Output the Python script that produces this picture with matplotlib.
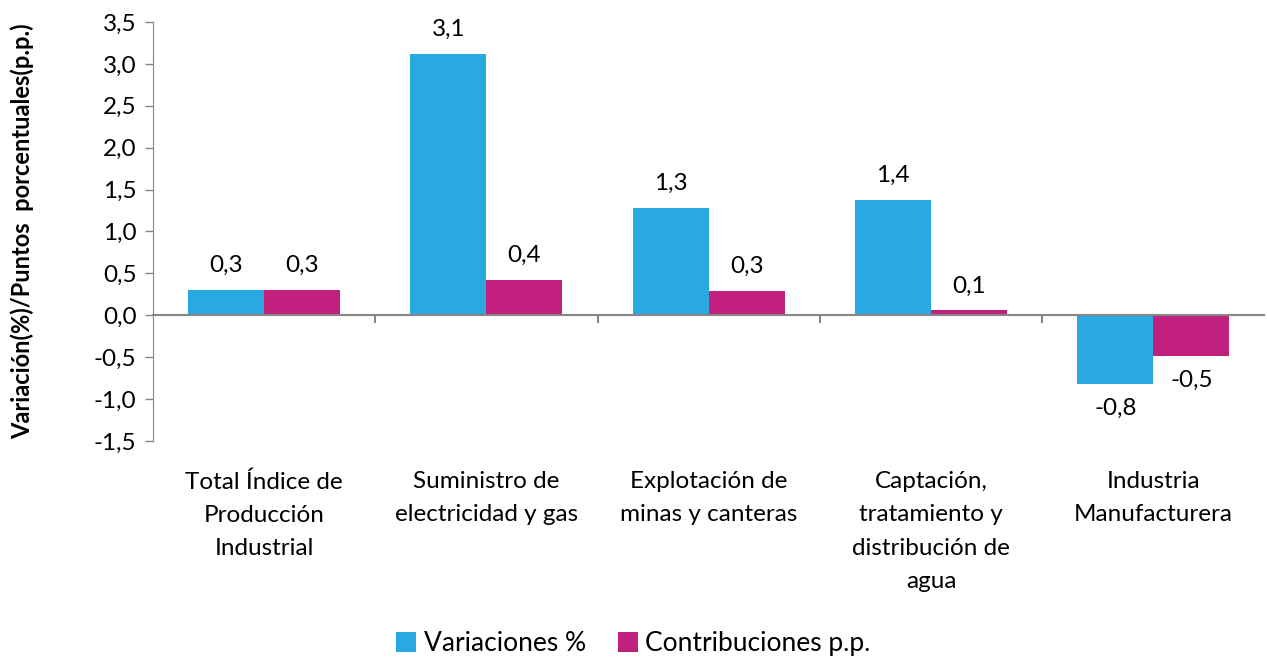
"""Variación y contribución por actividad del Índice de Producción Industrial."""

import matplotlib

matplotlib.use("Agg")
import matplotlib.pyplot as plt
import matplotlib.transforms as mtransforms
import numpy as np

plt.rcParams["font.family"] = ["Lato", "DejaVu Sans"]

categories = [
    "Total Índice de\nProducción\nIndustrial",
    "Suministro de\nelectricidad y gas",
    "Explotación de\nminas y canteras",
    "Captación,\ntratamiento y\ndistribución de\nagua",
    "Industria\nManufacturera",
]
variaciones = [0.30, 3.12, 1.28, 1.38, -0.82]
contribuciones = [0.30, 0.42, 0.29, 0.06, -0.49]
series_names = ["Variaciones %", "Contribuciones p.p."]
yticks = [-1.5, -1.0, -0.5, 0.0, 0.5, 1.0, 1.5, 2.0, 2.5, 3.0, 3.5]

BLUE = "#29A9E1"
MAGENTA = "#C1207F"
AXIS = "#868686"
FS = 17.5


def fmt(v):
    return f"{v:.1f}".replace(".", ",")


fig = plt.figure(figsize=(12.67, 6.57), dpi=100)
ax = fig.add_axes([0.1208, 0.3288, 0.8772, 0.6377])

x = np.arange(len(categories))
w = 0.342
bars_v = ax.bar(x - w / 2, variaciones, w, color=BLUE, label=series_names[0])
bars_c = ax.bar(x + w / 2, contribuciones, w, color=MAGENTA, label=series_names[1])

for bars in (bars_v, bars_c):
    for b in bars:
        v = b.get_height()
        xc = b.get_x() + b.get_width() / 2
        off = 10 if v >= 0 else -10
        ax.annotate(fmt(v), (xc, v), xytext=(0, off), textcoords="offset points",
                    ha="center", va="bottom" if v >= 0 else "top", fontsize=FS)

ax.set_xlim(-0.5, len(categories) - 0.5)
ax.set_ylim(yticks[0], yticks[-1])
ax.set_yticks(yticks)
ax.set_yticklabels([fmt(t) for t in yticks], fontsize=FS)
ax.tick_params(axis="y", length=6, width=1, color=AXIS, pad=6)

for side in ("top", "right"):
    ax.spines[side].set_visible(False)
ax.spines["left"].set_color(AXIS)
ax.spines["bottom"].set_position(("data", 0))
ax.spines["bottom"].set_color(AXIS)
ax.spines["bottom"].set_linewidth(1.5)

ax.set_xticks(x)
ax.set_xticklabels([])
ax.tick_params(axis="x", which="major", length=0)
ax.set_xticks(x[:-1] + 0.5, minor=True)
ax.tick_params(axis="x", which="minor", length=6, width=1.5, color=AXIS, direction="out")

trans = mtransforms.blended_transform_factory(ax.transData, ax.transAxes)
for xi, cat in zip(x, categories):
    ax.text(xi, -0.072, cat, transform=trans, ha="center", va="top",
            fontsize=FS, linespacing=1.72)

ax.set_ylabel("Variación(%)/Puntos  porcentuales(p.p.)", fontsize=17,
              fontweight="bold")
ax.yaxis.set_label_coords(-0.107, 0.5)

fig.legend(handles=[bars_v, bars_c], labels=series_names, loc="lower center",
           bbox_to_anchor=(0.5, -0.035), ncol=2, frameon=False, fontsize=FS + 1.5,
           handlelength=0.75, handleheight=0.75, handletextpad=0.3, columnspacing=1.2)

fig.savefig("out.png", dpi=100)
plt.close(fig)
